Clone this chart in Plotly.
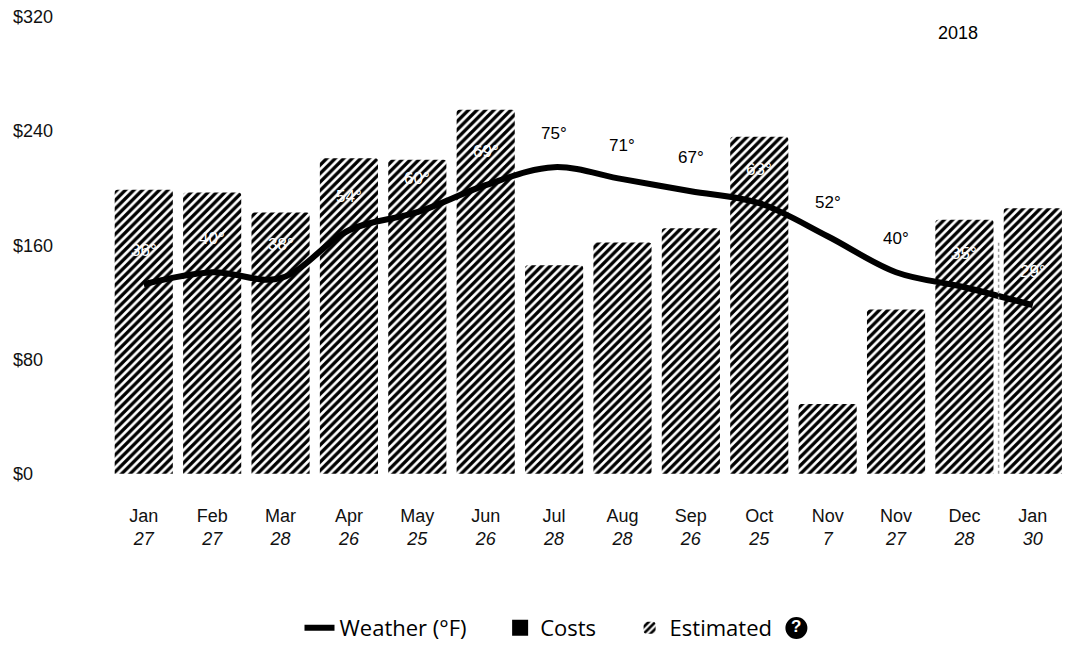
import plotly.graph_objects as go

# Billing periods (month + day of meter read)
months = ["Jan", "Feb", "Mar", "Apr", "May", "Jun", "Jul", "Aug", "Sep", "Oct", "Nov", "Nov", "Dec", "Jan"]
days = ["27", "27", "28", "26", "25", "26", "28", "28", "26", "25", "7", "27", "28", "30"]

# Estimated costs in dollars for each period
costs = [199, 197, 183, 221, 220, 255, 146, 162, 172, 236, 49, 115, 178, 186]

# Average outdoor temperature (°F) for each period
temps = [36, 40, 38, 54, 60, 69, 75, 71, 67, 63, 52, 40, 35, 29]

# Dollar axis ticks
cost_ticks = [0, 80, 160, 240, 320]
cost_tick_text = ["$0", "$80", "$160", "$240", "$320"]

year_label = "2018"

idx = list(range(len(months)))
tick_text = [f"{m}<br><i>{d}</i>" for m, d in zip(months, days)]

NBSP = "\u00a0"
Y_RANGE = [-12, 331.8]
T_RANGE = [-32.9, 130.7]
PLOT_H = 494
LABEL_SHIFT = 34
LEGEND_Y = -0.279

fig = go.Figure()

fig.add_trace(go.Bar(
    x=idx, y=costs, name="Estimated", width=0.85, opacity=1,
    marker=dict(color="white", opacity=1, line_width=0,
                pattern=dict(shape="/", fgcolor="#000000", bgcolor="#ffffff",
                             fgopacity=1, size=6, solidity=0.55)),
    legendrank=3, hoverinfo="skip",
))

# legend-only entry for actual costs
fig.add_trace(go.Scatter(
    x=[None], y=[None], name="Costs" + NBSP * 5, mode="markers",
    marker=dict(symbol="square", size=16, color="black"),
    legendrank=2,
))

fig.add_trace(go.Scatter(
    x=idx, y=temps, yaxis="y2", name="Weather (°F)" + NBSP * 5, mode="lines",
    line=dict(color="black", width=6, shape="spline", smoothing=1),
    legendrank=1, hoverinfo="skip",
))

# temperature labels: white when they sit over a bar, black otherwise
y_span = Y_RANGE[1] - Y_RANGE[0]
annotations = []
for i, (t, c) in enumerate(zip(temps, costs)):
    frac = (t - T_RANGE[0]) / (T_RANGE[1] - T_RANGE[0])
    label_dollars = Y_RANGE[0] + frac * y_span + LABEL_SHIFT / PLOT_H * y_span
    color = "white" if label_dollars < c - 4 else "black"
    annotations.append(dict(
        x=i, y=t, xref="x", yref="y2", yshift=LABEL_SHIFT, text=f"{t}°",
        showarrow=False, font=dict(size=17, color=color, family="Liberation Sans"),
    ))

annotations.append(dict(
    x=11.9, y=309, xref="x", yref="y", text=year_label,
    showarrow=False, font=dict(size=18, color="black", family="Liberation Sans"),
))

# question-mark badge after the legend
BADGE_X = 0.744
annotations.append(dict(
    x=BADGE_X, y=LEGEND_Y, xref="paper", yref="paper", xanchor="center", yanchor="middle",
    yshift=1, text="<b>?</b>", showarrow=False,
    font=dict(size=17, color="white", family="Liberation Sans"),
))

shapes = [
    dict(type="line", x0=12.5, x1=12.5, y0=0, y1=162, xref="x", yref="y",
         line=dict(color="#999", width=1.5, dash="dot")),
    dict(type="circle", xref="paper", yref="paper", xsizemode="pixel", ysizemode="pixel",
         xanchor=BADGE_X, yanchor=LEGEND_Y, x0=-11, x1=11, y0=-11, y1=11,
         fillcolor="black", line=dict(color="black", width=0)),
]

fig.update_layout(
    width=1073, height=649,
    margin=dict(l=10, r=6, t=0, b=155),
    paper_bgcolor="white", plot_bgcolor="white",
    font=dict(family="Liberation Sans", color="#111", size=17),
    barmode="overlay", barcornerradius=3,
    showlegend=True,
    legend=dict(orientation="h", x=0.5, xanchor="center", y=LEGEND_Y, yanchor="middle",
                font=dict(family="Open Sans", size=22, color="black"),
                bgcolor="rgba(0,0,0,0)", itemwidth=30, tracegroupgap=0),
    xaxis=dict(range=[-1.956, 13.5], tickvals=idx, ticktext=tick_text,
               showgrid=False, zeroline=False, showline=False, ticks="",
               ticklabelstandoff=12, tickfont=dict(size=18, color="#111")),
    yaxis=dict(range=Y_RANGE, tickvals=cost_ticks, ticktext=cost_tick_text,
               ticklabelposition="inside", showgrid=False, zeroline=False,
               showline=False, ticks="", tickfont=dict(size=18, color="#111")),
    yaxis2=dict(range=T_RANGE, overlaying="y", visible=False),
    annotations=annotations,
    shapes=shapes,
)

fig.write_html("out.html")
